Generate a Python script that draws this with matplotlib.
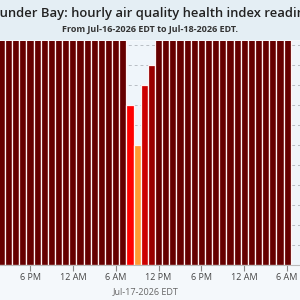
import matplotlib
matplotlib.use("Agg")
import matplotlib.pyplot as plt
import matplotlib.dates as mdates
import pandas as pd
from matplotlib.patches import Rectangle

# ---- data ----
hours = pd.date_range("2026-07-16 14:00", "2026-07-18 06:00", freq="h")
aqhi = [12] * 18 + [8, 6, 9, 10] + [12] * 19
aqhi_colors = {1: "#00ccff", 2: "#0099cc", 3: "#006699", 4: "#ffff00", 5: "#ffcc00",
               6: "#ff9933", 7: "#ff6666", 8: "#ff0000", 9: "#cc0000", 10: "#990000"}
title = "Thunder Bay: hourly air quality health index readings"
subtitle = "From Jul-16-2026 EDT to Jul-18-2026 EDT."
xlabel = "Jul-17-2026 EDT"

colors = [aqhi_colors.get(v, "#660000") for v in aqhi]

fig = plt.figure(figsize=(3, 3), dpi=100)
fig.patch.set_facecolor("#f4f8fb")
fig.patches.append(Rectangle((0, 1 - 40 / 300), 1, 40 / 300, transform=fig.transFigure,
                             facecolor="#e4eef4", edgecolor="none", zorder=0))

ax = fig.add_axes([0, 35 / 300, 1, 224 / 300])
ax.set_facecolor("#eff5fa")
ax.bar(hours, aqhi, width=1 / 24, color=colors, edgecolor="#fff4f4", linewidth=0.9, zorder=2)

ax.set_ylim(0, 11.2)
ax.set_xlim(pd.Timestamp("2026-07-16 13:48"), pd.Timestamp("2026-07-18 07:48"))
for y in range(1, 12):
    ax.axhline(y, color="#b8bec4", linestyle=(0, (3, 3)), linewidth=0.7, zorder=1)

ax.xaxis.set_major_locator(mdates.HourLocator(byhour=[0, 6, 12, 18]))
ax.xaxis.set_major_formatter(plt.FuncFormatter(
    lambda v, p: mdates.num2date(v).strftime("%I %p").lstrip("0")))
ax.tick_params(axis="x", colors="#888888", labelcolor="#444444", labelsize=6.5,
               length=4, width=0.8, pad=2)
for lab in ax.get_xticklabels():
    lab.set_fontfamily("Open Sans")
ax.set_yticks([])
for s in ["top", "left", "right"]:
    ax.spines[s].set_visible(False)
ax.spines["bottom"].set_color("#bbbbbb")
ax.spines["bottom"].set_linewidth(0.8)
ax.spines["bottom"].set_zorder(3)

fig.text(0.505, 1 - 14 / 300, title, ha="center", va="center",
         fontsize=9.4, fontweight="semibold", family="Open Sans", color="#222222")
fig.text(0.5, 1 - 29 / 300, subtitle, ha="center", va="center",
         fontsize=6.5, fontweight="bold", family="Open Sans", color="#333333")
fig.text(0.487, 1 - 292 / 300, xlabel, ha="center", va="center",
         fontsize=6.5, family="Open Sans", color="#666666")

fig.savefig("out.png", dpi=100, facecolor=fig.get_facecolor())
